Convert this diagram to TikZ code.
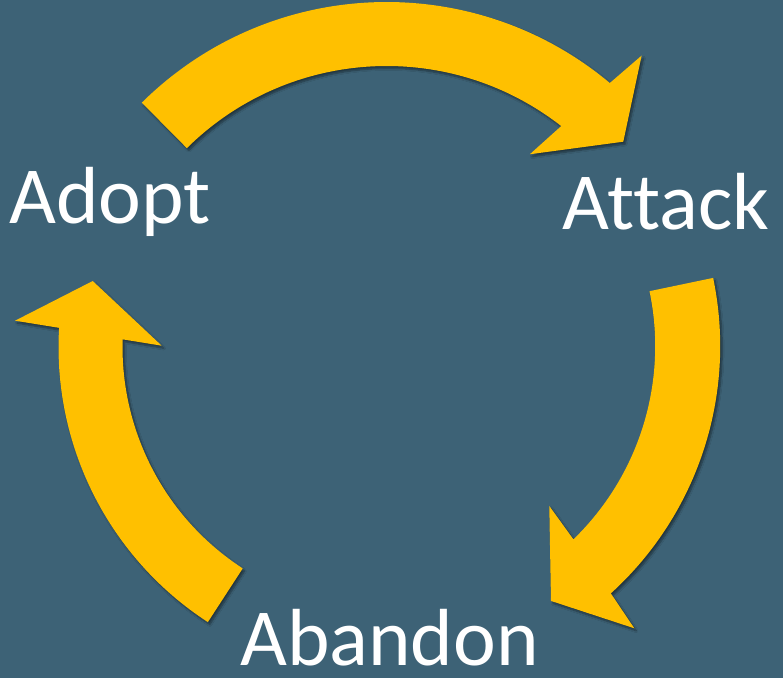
\documentclass[tikz,border=0pt]{standalone}
\usepackage{fontspec}
\setmainfont[Ligatures=NoCommon]{Carlito}
\usetikzlibrary{shadows.blur}
\definecolor{slate}{RGB}{61,98,118}
\definecolor{amber}{RGB}{255,192,0}
\tikzset{
  cyclearrow/.style={fill=amber, blur shadow={shadow xshift=2pt, shadow yshift=-2.5pt, shadow blur steps=6, shadow opacity=45}},
  steplabel/.style={text=white, inner sep=0pt, anchor=base west, font=\fontsize{81}{97}\selectfont}
}
\begin{document}
\begin{tikzpicture}[x=1pt,y=1pt]
  % Background
  \fill[slate] (0,0) rectangle (783,678);
  \useasboundingbox (0,0) rectangle (783,678);

  % Top arrow: Adopt -> Attack
  \begin{scope}[shift={(386.6,328)}]
    \fill[cyclearrow] (134.7:348) arc[start angle=134.7, end angle=50.1, radius=348]
      -- (49.1:389.5) -- (41.35:315.3) -- (53.8:242.6)
      -- (52.05:284) arc[start angle=52.05, end angle=134.7, radius=284] -- cycle;
  \end{scope}

  % Right arrow: Attack -> Abandon
  \begin{scope}[shift={(386.2,331.8)}]
    \fill[cyclearrow] (11.8:334) arc[start angle=11.8, end angle=-47.74, radius=334]
      -- (-48.67:375.7) -- (-57.1:303.4) -- (-44.41:228.3)
      -- (-45.9:269) arc[start angle=-45.9, end angle=11.8, radius=269] -- cycle;
  \end{scope}

  % Left arrow: Abandon -> Adopt
  \begin{scope}[shift={(386.5,331)}]
    \fill[cyclearrow] (176.65:328) arc[start angle=176.65, end angle=237, radius=328]
      -- (237:264) arc[start angle=237, end angle=178.34, radius=264]
      -- (179.67:224.8) -- (167.34:301.1) -- (175.95:372.4) -- cycle;
  \end{scope}

  % Labels
  \node[steplabel] (adopt)   at (9,454.7) {Adopt};
  \node[steplabel] (attack)  at (562,448) {Attack};
  \node[steplabel] (abandon) at (240,13)  {Abandon};
\end{tikzpicture}
\end{document}
